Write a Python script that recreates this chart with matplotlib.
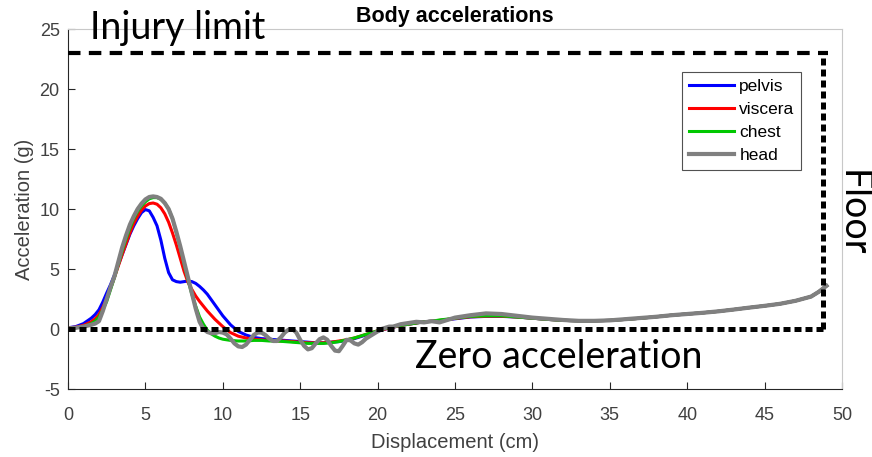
import matplotlib.pyplot as plt

plt.rcParams['font.family'] = ['Liberation Sans', 'DejaVu Sans']
plt.rcParams['axes.unicode_minus'] = False

# 数据
disp = [0, 0.5, 1,
        1.5, 1.75, 2, 2.25, 2.5, 2.75, 3, 3.25, 3.5, 3.75, 4, 4.25, 4.5, 4.75, 5, 5.25,
        5.5, 5.75, 6, 6.25, 6.5, 6.75, 7, 7.25, 7.5, 7.75, 8, 8.25, 8.5, 8.75, 9, 9.25,
        9.5, 9.75, 10,
        10.5, 11, 11.5, 12, 12.5, 13, 13.5, 14, 14.5, 15, 15.5, 16, 16.5, 17, 17.5,
        18, 18.5, 19, 19.5, 20, 20.5, 21, 21.5, 22, 22.5, 23, 23.5, 24,
        25, 26, 27, 28, 29, 30, 31, 32, 33, 34, 35, 36, 37, 38, 39, 40, 41, 42, 43, 44,
        45, 46, 47, 48, 48.5, 49]

pelvis = [0.1, 0.2, 0.45,
          0.9, 1.2, 1.6, 2.25, 3.0, 3.7, 4.5, 5.35, 6.2, 7.05, 7.9, 8.6, 9.2, 9.7, 9.95, 9.85,
          9.3, 8.6, 7.4, 5.9, 4.7, 4.1, 3.95, 3.9, 3.95, 4.0, 3.95, 3.8, 3.55, 3.25, 2.9, 2.45,
          2.0, 1.55, 1.1,
          0.35, -0.2, -0.5, -0.7, -0.8, -0.85, -0.9, -0.95, -1.0, -1.05, -1.1, -1.15, -1.15,
          -1.1, -1.05, -0.95, -0.8, -0.6, -0.4, -0.2, 0.0, 0.15, 0.3, 0.4, 0.5, 0.6, 0.65, 0.7,
          0.85, 1.0, 1.05, 1.05, 1.0, 0.9, 0.8, 0.72, 0.68, 0.68, 0.72, 0.8, 0.9, 1.02, 1.15,
          1.25, 1.35, 1.47, 1.62, 1.78, 1.93, 2.1, 2.35, 2.7, 3.1, 3.6]

viscera = [0.1, 0.15, 0.3,
           0.6, 0.85, 1.2, 1.8, 2.5, 3.4, 4.3, 5.25, 6.2, 7.1, 8.0, 8.8, 9.4, 9.9, 10.25, 10.45,
           10.5, 10.4, 10.1, 9.6, 8.9, 8.0, 7.0, 5.9, 4.8, 3.9, 3.3, 2.75, 2.3, 1.9, 1.5, 1.15,
           0.8, 0.5, 0.2,
           -0.3, -0.6, -0.75, -0.85, -0.9, -0.95, -1.0, -1.0, -1.05, -1.1, -1.15, -1.15, -1.15,
           -1.1, -1.0, -0.9, -0.75, -0.55, -0.35, -0.15, 0.0, 0.15, 0.3, 0.4, 0.5, 0.6, 0.65, 0.72,
           0.88, 1.02, 1.07, 1.07, 1.0, 0.9, 0.8, 0.72, 0.68, 0.68, 0.72, 0.8, 0.9, 1.02, 1.15,
           1.25, 1.35, 1.47, 1.62, 1.78, 1.93, 2.1, 2.35, 2.7, 3.1, 3.6]

chest = [0.05, 0.1, 0.2,
         0.45, 0.65, 1.0, 1.6, 2.3, 3.3, 4.3, 5.4, 6.5, 7.5, 8.4, 9.2, 9.8, 10.25, 10.6, 10.85,
         10.95, 10.95, 10.8, 10.5, 10.0, 9.2, 8.0, 6.8, 5.4, 4.1, 2.9, 1.9, 1.0, 0.4, -0.1, -0.4,
         -0.6, -0.75, -0.85,
         -0.95, -1.0, -1.0, -0.95, -0.95, -1.0, -1.0, -1.05, -1.1, -1.15, -1.2, -1.2, -1.2,
         -1.15, -1.05, -0.9, -0.75, -0.55, -0.35, -0.15, 0.05, 0.2, 0.3, 0.4, 0.5, 0.6, 0.65, 0.75,
         0.9, 1.05, 1.1, 1.1, 1.0, 0.9, 0.8, 0.72, 0.68, 0.68, 0.72, 0.8, 0.9, 1.02, 1.15,
         1.25, 1.35, 1.47, 1.62, 1.78, 1.93, 2.1, 2.35, 2.7, 3.1, 3.6]

disp_head = [0, 0.5, 1,
             1.5, 1.75, 2, 2.25, 2.5, 2.75, 3, 3.25, 3.5, 3.75, 4, 4.25, 4.5, 4.75, 5, 5.25,
             5.5, 5.75, 6, 6.25, 6.5, 6.75, 7, 7.25, 7.5, 7.75, 8,
             8.25, 8.5, 8.75, 9, 9.25, 9.5, 9.75, 10, 10.25, 10.5, 10.75, 11, 11.25, 11.5,
             11.75, 12, 12.25, 12.5, 12.75, 13, 13.25, 13.5, 13.75, 14, 14.25, 14.5, 14.75,
             15, 15.25, 15.5, 15.75, 16, 16.25, 16.5, 16.75, 17, 17.25, 17.5, 17.75, 18,
             18.25, 18.5, 18.75, 19, 19.25, 19.5, 19.75, 20, 20.25, 20.5, 20.75, 21, 21.25,
             21.5, 21.75, 22, 22.5, 23, 23.5, 24,
             25, 26, 27, 28, 29, 30, 31, 32, 33, 34, 35, 36, 37, 38, 39, 40, 41, 42, 43, 44,
             45, 46, 47, 48, 48.5, 49]

head = [0.05, 0.1, 0.2,
        0.35, 0.45, 0.65, 1.5, 2.5, 3.5, 4.4, 5.6, 6.8, 7.8, 8.7, 9.4, 10.0, 10.45, 10.8, 11.0,
        11.05, 11.0, 10.85, 10.5, 10.0, 9.2, 8.1, 6.9, 5.6, 4.3, 3.0,
        1.7, 0.6, 0.0, -0.25, -0.35, -0.35, -0.25, -0.3, -0.45, -0.8, -1.2, -1.45, -1.5, -1.3,
        -0.9, -0.5, -0.3, -0.3, -0.5, -0.8, -1.0, -1.0, -0.7, -0.3, -0.05, 0.0, -0.3,
        -0.9, -1.4, -1.7, -1.6, -1.2, -0.85, -0.7, -0.9, -1.4, -1.8, -1.85, -1.4, -0.9,
        -0.95, -1.2, -1.3, -1.1, -0.8, -0.6, -0.4, -0.2, 0.0, 0.1, 0.2, 0.2, 0.3,
        0.4, 0.45, 0.5, 0.6, 0.55, 0.65, 0.55,
        0.95, 1.15, 1.3, 1.25, 1.1, 0.95, 0.85, 0.75, 0.68, 0.68, 0.72, 0.82, 0.92, 1.02, 1.15,
        1.25, 1.35, 1.47, 1.62, 1.78, 1.93, 2.1, 2.35, 2.7, 3.1, 3.6]

injury_limit = 23
floor_disp = 48.8

fig = plt.figure(figsize=(8.72, 4.57), dpi=100)
ax = fig.add_axes([68 / 872, 1 - 389 / 457, (842 - 68) / 872, (389 - 29) / 457])

ax.plot(disp, pelvis, color='#0000ff', lw=2.2, label='pelvis')
ax.plot(disp, viscera, color='#ff0000', lw=2.2, label='viscera')
ax.plot(disp, chest, color='#00c800', lw=2.2, label='chest')
ax.plot(disp_head, head, color='#808080', lw=3.0, label='head')

# 标注线 (幻灯片上加的黑线)
ax.plot([0, floor_disp + 0.3], [injury_limit, injury_limit], color='black', lw=3,
        linestyle=(0, (3, 2)), zorder=5)
ax.plot([0, floor_disp], [0, 0], color='black', lw=3.6, linestyle=(0, (1.4, 0.8)), zorder=5)
ax.plot([floor_disp, floor_disp], [0, injury_limit], color='black', lw=3.6,
        linestyle=(0, (1.4, 0.8)), zorder=5)

ax.set_xlim(0, 50)
ax.set_ylim(-5, 25)
ax.set_xticks(range(0, 51, 5))
ax.set_yticks(range(-5, 26, 5))
ax.tick_params(direction='in', length=5, width=0.8, colors='#262626', labelsize=13,
               labelcolor='#404040', pad=6)
ax.tick_params(axis='x', pad=13)
for s in ['left', 'bottom']:
    ax.spines[s].set_color('#262626')
    ax.spines[s].set_linewidth(0.8)
for s in ['top', 'right']:
    ax.spines[s].set_color('#c8c8c8')
    ax.spines[s].set_linewidth(0.8)

ax.set_xlabel('Displacement (cm)', fontsize=14.5, color='#404040', labelpad=6.5)
ax.set_ylabel('Acceleration (g)', fontsize=14.5, color='#404040', labelpad=4)
ax.set_title('Body accelerations', fontsize=15.5, fontweight='bold', color='black', pad=5)

leg = ax.legend(loc='upper left', bbox_to_anchor=(682 / 872, 1 - 72 / 457),
                bbox_transform=fig.transFigure, fontsize=12.5, frameon=True, fancybox=False,
                handlelength=2.6, handletextpad=0.3, labelspacing=0.45, borderpad=0.4,
                borderaxespad=0)
leg.get_frame().set_edgecolor('#262626')
leg.get_frame().set_linewidth(0.8)

# 幻灯片上的文字
fig.text(90 / 872, 1 - 39 / 457, 'Injury limit', fontsize=27, family='Lato', color='black')
fig.text(415 / 872, 1 - 368 / 457, 'Zero acceleration', fontsize=27, family='Lato', color='black')
fig.text(853 / 872, 1 - 213 / 457, 'Floor', fontsize=27, family='Lato', color='black',
         rotation=-90, ha='center', va='center')

plt.savefig('out.png', dpi=100)
plt.close()
